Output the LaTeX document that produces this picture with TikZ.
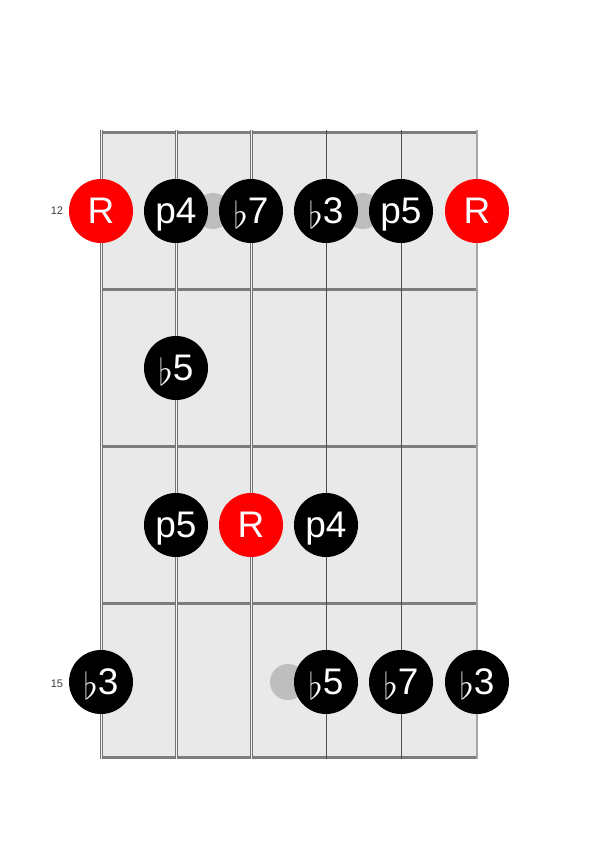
\documentclass[tikz,border=0pt]{standalone}
\usepackage{fix-cm}
\usepackage{fontspec}
\setmainfont{Liberation Sans}
\definecolor{board}{RGB}{233,233,233}
\definecolor{fretgray}{RGB}{125,125,125}
\definecolor{inlaygray}{RGB}{190,190,190}
\definecolor{labelgray}{RGB}{60,60,60}
\newcommand{\flt}{\raisebox{-5pt}{$\flat$}}
\tikzset{
    note/.style={circle, fill=black, text=white, minimum size=64pt, inner sep=0pt,
        text height=24pt, text depth=0pt, font=\fontsize{37}{37}\selectfont},
    root/.style={note, fill=red},
    inlay/.style={circle, fill=inlaygray, minimum size=36pt, inner sep=0pt},
    fretnum/.style={font=\fontsize{11}{11}\selectfont, text=labelgray},
    fretline/.style={draw=fretgray, line width=3pt},
    wound/.style={draw=black!55, double=white!90!gray, line width=1.1pt, double distance=0.8pt},
    plain/.style={draw=black!70, line width=1pt}
}
\begin{document}
\begin{tikzpicture}[x=1pt, y=-1pt]
    \useasboundingbox (0,0) rectangle (600,849);
    \fill[board] (101,132) rectangle (477,757);
    \foreach \y in {132,289,446,603,757}
        \draw[fretline] (101,\y) -- (477,\y);
    \foreach \x in {101,176,251}
        \draw[wound] (\x,130) -- (\x,759);
    \foreach \x in {326,401}
        \draw[plain] (\x,130) -- (\x,759);
    \draw[draw=black!35, line width=1.5pt] (477,130) -- (477,759);

    \node[inlay] (dot12a) at (213,211) {};
    \node[inlay] (dot12b) at (363,211) {};
    \node[inlay] (dot15) at (288,682) {};

    \foreach \nm/\st/\x/\y/\lab in {
        f12s1/root/101/211/R, f12s2/note/176/211/p4, f12s3/note/251/211/{\flt7},
        f12s4/note/326/211/{\flt3}, f12s5/note/401/211/p5, f12s6/root/477/211/R,
        f13s2/note/176/368/{\flt5},
        f14s2/note/176/525/p5, f14s3/root/251/525/R, f14s4/note/326/525/p4,
        f15s1/note/101/682/{\flt3}, f15s4/note/326/682/{\flt5},
        f15s5/note/401/682/{\flt7}, f15s6/note/477/682/{\flt3}}
        \node[\st] (\nm) at (\x,\y) {\lab};

    \node[fretnum] (num12) at (57,211) {12};
    \node[fretnum] (num15) at (57,684) {15};
\end{tikzpicture}
\end{document}
